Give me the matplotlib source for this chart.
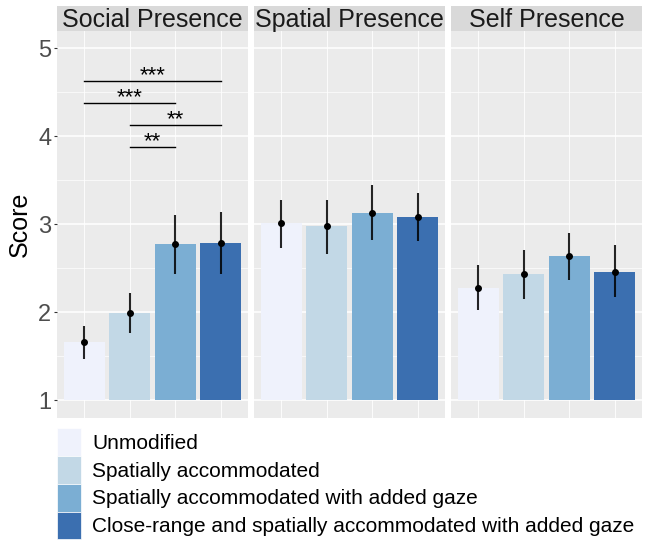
import numpy as np
import matplotlib.pyplot as plt
from matplotlib.patches import Patch

plt.rcParams['font.family'] = ['Liberation Sans', 'DejaVu Sans']

# presence scores per facet: mean and 95% CI bounds for each condition
facets = ["Social Presence", "Spatial Presence", "Self Presence"]
conditions = ["Unmodified",
              "Spatially accommodated",
              "Spatially accommodated with added gaze",
              "Close-range and spatially accommodated with added gaze"]
colors = ["#EFF2FC", "#C2D8E6", "#7BAED3", "#3B6FB0"]

means = {
    "Social Presence": [1.66, 1.99, 2.78, 2.79],
    "Spatial Presence": [3.01, 2.98, 3.13, 3.08],
    "Self Presence": [2.28, 2.43, 2.64, 2.46],
}
ci_low = {
    "Social Presence": [1.47, 1.77, 2.44, 2.43],
    "Spatial Presence": [2.73, 2.66, 2.82, 2.81],
    "Self Presence": [2.03, 2.15, 2.37, 2.17],
}
ci_high = {
    "Social Presence": [1.85, 2.22, 3.11, 3.14],
    "Spatial Presence": [3.28, 3.28, 3.45, 3.35],
    "Self Presence": [2.54, 2.71, 2.90, 2.76],
}

# pairwise comparisons in social presence: (from bar, to bar, height, label)
sig_pairs = [(1, 4, 4.63, "***"), (1, 3, 4.38, "***"),
             (2, 4, 4.13, "**"), (2, 3, 3.88, "**")]

W, H = 646, 542
fig = plt.figure(figsize=(W / 100, H / 100), dpi=100)

def px(x0, y0, x1, y1):
    return [x0 / W, 1 - y1 / H, (x1 - x0) / W, (y1 - y0) / H]

panel_x = [(57, 248), (254, 445), (451, 642)]
xs = np.arange(1, 5)

for i, name in enumerate(facets):
    x0, x1 = panel_x[i]
    ax = fig.add_axes(px(x0, 30.5, x1, 418))
    ax.set_facecolor("#EBEBEB")
    ax.set_xlim(0.4, 4.6)
    ax.set_ylim(0.8, 5.2)
    ax.set_yticks([1, 2, 3, 4, 5])
    ax.set_yticks([1.5, 2.5, 3.5, 4.5], minor=True)
    ax.set_xticks(xs)
    ax.grid(which="major", axis="y", color="white", lw=1.1)
    ax.grid(which="major", axis="x", color="white", lw=0.6)
    ax.grid(which="minor", axis="y", color="white", lw=0.5)
    ax.set_axisbelow(True)
    for s in ax.spines.values():
        s.set_visible(False)
    ax.tick_params(axis="x", length=0, labelbottom=False)
    ax.tick_params(axis="y", which="minor", length=0)
    if i == 0:
        ax.tick_params(axis="y", which="major", length=2.5, color="#333333",
                       labelsize=17, labelcolor="#4D4D4D", pad=1.5)
        ax.set_ylabel("Score", fontsize=18, labelpad=5)
    else:
        ax.tick_params(axis="y", which="major", length=0, labelleft=False)

    m = np.array(means[name])
    ax.bar(xs, m - 1, bottom=1, width=0.9, color=colors, zorder=2)
    ax.vlines(xs, ci_low[name], ci_high[name], color="black", lw=1.5,
              alpha=0.85, zorder=3)
    ax.plot(xs, m, "o", color="black", ms=4, zorder=4)

    if name == "Social Presence":
        for a, b, y, lab in sig_pairs:
            ax.plot([a, b], [y, y], color="black", lw=1, zorder=3)
            ax.text((a + b) / 2, y - 0.0, lab, ha="center", va="baseline",
                    fontsize=16)

    strip = fig.add_axes(px(x0, 5.5, x1, 30.5))
    strip.set_facecolor("#D9D9D9")
    strip.set_xticks([])
    strip.set_yticks([])
    for s in strip.spines.values():
        s.set_visible(False)
    strip.text(0.5, 0.42, name, ha="center", va="center", fontsize=18,
               color="#1A1A1A", transform=strip.transAxes)

handles = [Patch(facecolor=c, edgecolor="white", lw=0.5) for c in colors]
fig.legend(handles, conditions, loc="upper left",
           bbox_to_anchor=(57 / W, 1 - 428 / H), frameon=False,
           fontsize=15, handlelength=1.15, handleheight=1.68,
           labelspacing=0.0, handletextpad=0.55, borderpad=0,
           borderaxespad=0)

fig.savefig("out.png", dpi=100)
